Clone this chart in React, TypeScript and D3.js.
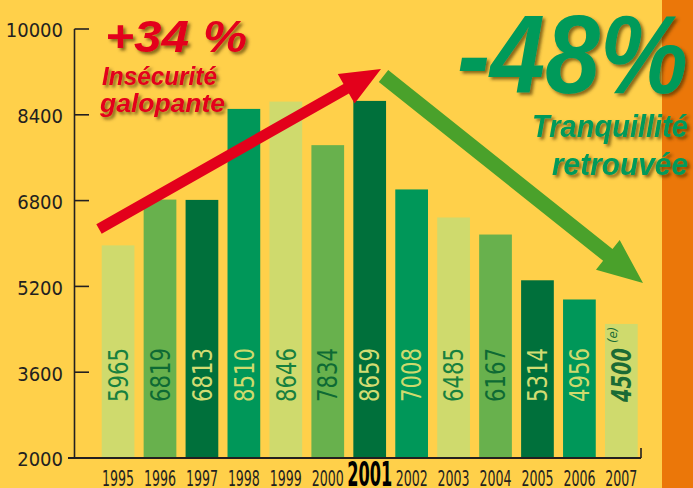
import React from 'react';
import * as d3 from 'd3';

const years = ['1995', '1996', '1997', '1998', '1999', '2000', '2001', '2002', '2003', '2004', '2005', '2006', '2007'];
const values = [5965, 6819, 6813, 8510, 8646, 7834, 8659, 7008, 6485, 6167, 5314, 4956, 4500];
const yTicks = [2000, 3600, 5200, 6800, 8400, 10000];
const barColors = ['#CFDA6D', '#68B14D', '#00703B', '#009759'];
const labelColors = ['#17803F', '#0E6A34', '#D2DC72', '#CFDA6D'];

const W = 693;
const H = 488;
const BG = '#FFD04A';
const ORANGE = '#EB7709';
const RED = '#E3001B';
const GREEN_TXT = '#009A5A';
const GREEN_ARROW = '#4AA12B';
const AXIS = '#231F20';

const condFont = "'Liberation Sans Narrow', 'Arial Narrow', 'DejaVu Sans Condensed', 'Liberation Sans', sans-serif";
const boldFont = "'Liberation Sans', 'Arial', 'DejaVu Sans', sans-serif";

function arrowPath(x1: number, y1: number, x2: number, y2: number, shaftW: number, headL: number, headW: number) {
  const dx = x2 - x1;
  const dy = y2 - y1;
  const len = Math.sqrt(dx * dx + dy * dy);
  const ux = dx / len;
  const uy = dy / len;
  const nx = -uy;
  const ny = ux;
  const bx = x2 - ux * headL;
  const by = y2 - uy * headL;
  const s = shaftW / 2;
  const pts: [number, number][] = [
    [x1 + nx * s, y1 + ny * s],
    [bx + nx * s, by + ny * s],
    [bx + nx * headW, by + ny * headW],
    [x2, y2],
    [bx - nx * headW, by - ny * headW],
    [bx - nx * s, by - ny * s],
    [x1 - nx * s, y1 - ny * s],
  ];
  return 'M' + pts.map((p) => p[0].toFixed(1) + ',' + p[1].toFixed(1)).join('L') + 'Z';
}

export default function App() {
  const x = d3.scaleBand<string>().domain(years).range([101.7, 637.7]).paddingInner(0.22).paddingOuter(0);
  const y = d3.scaleLinear().domain([2000, 10000]).range([458, 29]);
  const bw = x.bandwidth();
  const axisX = 74.5;
  const baseY = y(2000);

  return (
    <svg
      width={W}
      height={H}
      viewBox={`0 0 ${W} ${H}`}
      style={{ position: 'fixed', left: 0, top: 0, display: 'block' }}
    >
      <defs>
        <filter id="shadow" x="-10%" y="-10%" width="130%" height="140%">
          <feDropShadow dx="2.5" dy="2.5" stdDeviation="1.4" floodColor="#4a3000" floodOpacity="0.65" />
        </filter>
      </defs>
      <rect x={0} y={0} width={W} height={H} fill={BG} />
      <rect x={662} y={0} width={W - 662} height={H} fill={ORANGE} />

      {/* bars */}
      {years.map((yr, i) => (
        <rect
          key={yr}
          x={x(yr)}
          y={y(values[i])}
          width={bw}
          height={baseY - 1 - y(values[i])}
          fill={barColors[i % 4]}
        />
      ))}

      {/* value labels */}
      {years.map((yr, i) => {
        const cx = (x(yr) as number) + bw / 2;
        const cy = 375;
        const last = i === years.length - 1;
        return (
          <g key={'l' + yr} transform={`translate(${cx},${cy}) rotate(-90)`}>
            <text
              x={0}
              y={0}
              dy="0.36em"
              textAnchor="middle"
              fontFamily={condFont}
              fontSize={27}
              fontStyle={last ? 'italic' : 'normal'}
              fontWeight={last ? 600 : 400}
              textLength={54}
              lengthAdjust="spacingAndGlyphs"
              fill={last ? '#1A6B35' : labelColors[i % 4]}
            >
              {values[i]}
            </text>
            {last && (
              <text
                x={32}
                y={0}
                dy="-0.3em"
                textAnchor="start"
                fontFamily={condFont}
                fontSize={13}
                fontStyle="italic"
                fill="#1A6B35"
              >
                (e)
              </text>
            )}
          </g>
        );
      })}

      {/* axes */}
      <line x1={axisX} x2={axisX} y1={y(10000)} y2={baseY} stroke={AXIS} strokeWidth={1.6} />
      <line x1={68} x2={641} y1={baseY} y2={baseY} stroke={AXIS} strokeWidth={1.8} />
      <line x1={641} x2={641} y1={baseY - 10} y2={baseY} stroke={AXIS} strokeWidth={1.6} />
      {yTicks.map((t) => (
        <g key={'t' + t}>
          {t !== 2000 && <line x1={axisX} x2={89} y1={y(t)} y2={y(t)} stroke={AXIS} strokeWidth={1.6} />}
          <text
            x={63}
            y={y(t)}
            dy="0.42em"
            textAnchor="end"
            fontFamily={condFont}
            fontSize={20}
            fill={AXIS}
          >
            {t}
          </text>
        </g>
      ))}

      {/* year labels */}
      {years.map((yr) => {
        const cx = (x(yr) as number) + bw / 2;
        const bold = yr === '2001';
        return (
          <text
            key={'y' + yr}
            x={cx}
            y={486}
            textAnchor="middle"
            fontFamily={condFont}
            fontSize={bold ? 34 : 21}
            fontWeight={bold ? 900 : 400}
            textLength={bold ? 45 : 32}
            lengthAdjust="spacingAndGlyphs"
            fill={bold ? '#000' : AXIS}
          >
            {yr}
          </text>
        );
      })}

      {/* arrows */}
      <path d={arrowPath(99, 229, 381, 69, 11, 40, 17)} fill={RED} />
      <path d={arrowPath(383.5, 76, 643, 283, 15, 45, 19)} fill={GREEN_ARROW} />

      {/* annotations */}
      <g filter="url(#shadow)" fontFamily={boldFont} fontWeight={900} fontStyle="italic">
        <text x={105} y={52} fontSize={44} fill={RED} textLength={142} lengthAdjust="spacingAndGlyphs">
          +34 %
        </text>
        <text x={102} y={85} fontSize={25} fill={RED} textLength={115} lengthAdjust="spacingAndGlyphs">
          Insécurité
        </text>
        <text x={100} y={112} fontSize={25} fill={RED} textLength={125} lengthAdjust="spacingAndGlyphs">
          galopante
        </text>
        <text x={457} y={93} fontSize={112} fill={GREEN_TXT} textLength={231} lengthAdjust="spacingAndGlyphs">
          -48%
        </text>
        <text x={532} y={137} fontSize={31} fill={GREEN_TXT} textLength={156} lengthAdjust="spacingAndGlyphs">
          Tranquillité
        </text>
        <text x={552} y={175} fontSize={31} fill={GREEN_TXT} textLength={136} lengthAdjust="spacingAndGlyphs">
          retrouvée
        </text>
      </g>
    </svg>
  );
}
